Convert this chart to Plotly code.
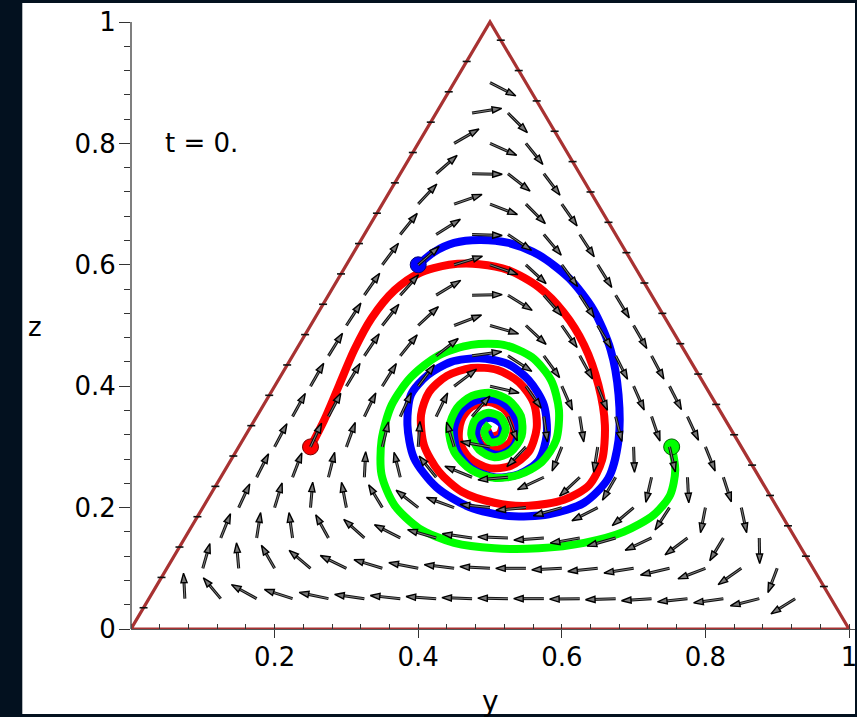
import math
import plotly.graph_objects as go

# ---------------- data ----------------
# simplex grid levels (share of y and z) used for the direction field
GRID = [0.0, 0.05, 0.10, 0.15, 0.20, 0.25, 0.30, 0.35, 0.40, 0.45, 0.50,
        0.55, 0.60, 0.65, 0.70, 0.75, 0.80, 0.85, 0.90, 0.95, 1.0]

# direction of each field arrow (degrees, as seen on screen), row j = z level index,
# entries for y level index i = 1, 2, ...
ANGLES = [
    [93, 130, 151, 162, 168, 172, 174, 176, 178, 179, 180, 181, 182, 184, 186, 188, 194, 212],
    [74, 95, 120, 140, 154, 163, 169, 173, 177, 180, 183, 186, 189, 193, 201, 215, 249],
    [68, 81, 98, 119, 138, 153, 164, 172, 178, 184, 190, 196, 205, 217, 239, 271],
    [65, 73, 85, 101, 121, 142, 160, 174, 185, 196, 207, 220, 237, 259, 282],
    [63, 69, 76, 87, 104, 129, 158, 185, 205, 223, 240, 257, 273, 288],
    [62, 65, 70, 76, 86, 107, 170, 226, 248, 261, 272, 283, 292],
    [61, 62, 64, 65, 64, 49, 291, 278, 279, 284, 289, 295],
    [60, 59, 58, 53, 37, 347, 305, 294, 292, 294, 297],
    [58, 56, 51, 38, 8, 327, 306, 299, 297, 298],
    [57, 52, 43, 21, 344, 317, 305, 301, 300],
    [55, 48, 31, 1, 328, 311, 303, 301],
    [53, 41, 17, 341, 317, 306, 302],
    [51, 32, 358, 326, 310, 303],
    [47, 19, 339, 315, 305],
    [41, 359, 322, 307],
    [30, 336, 309],
    [9, 315],
    [333],
]

# trajectories (horizontal y, vertical z)
RED_Y = [0.250, 0.269, 0.290, 0.311, 0.335, 0.367, 0.401, 0.443, 0.485, 0.526, 0.568, 0.603,
         0.631, 0.651, 0.660, 0.656, 0.638, 0.603, 0.554, 0.506, 0.461, 0.429, 0.408, 0.404,
         0.415, 0.440, 0.474, 0.510, 0.540, 0.561, 0.565, 0.554, 0.529, 0.499, 0.471, 0.457,
         0.460, 0.474, 0.499, 0.521, 0.533, 0.528, 0.508, 0.489, 0.481, 0.488, 0.504, 0.517,
         0.513, 0.501, 0.496]
RED_Z = [0.300, 0.344, 0.402, 0.460, 0.512, 0.558, 0.586, 0.600, 0.601, 0.591, 0.563, 0.521,
         0.468, 0.402, 0.336, 0.278, 0.237, 0.213, 0.203, 0.208, 0.226, 0.259, 0.303, 0.353,
         0.390, 0.417, 0.430, 0.427, 0.407, 0.372, 0.331, 0.292, 0.269, 0.265, 0.282, 0.311,
         0.344, 0.366, 0.374, 0.361, 0.334, 0.308, 0.295, 0.303, 0.325, 0.344, 0.351, 0.338,
         0.321, 0.318, 0.329]

BLUE_Y = [0.400, 0.422, 0.450, 0.485, 0.526, 0.568, 0.610, 0.644, 0.668, 0.679, 0.679, 0.665,
          0.631, 0.582, 0.526, 0.471, 0.425, 0.394, 0.385, 0.390, 0.413, 0.446, 0.485, 0.524,
          0.554, 0.575, 0.579, 0.568, 0.540, 0.506, 0.474, 0.454, 0.450, 0.461, 0.482, 0.510,
          0.529, 0.540, 0.533, 0.513, 0.492, 0.481, 0.485, 0.501, 0.517, 0.515, 0.504, 0.497]
BLUE_Z = [0.600, 0.621, 0.636, 0.641, 0.636, 0.616, 0.578, 0.526, 0.460, 0.386, 0.311, 0.249,
          0.208, 0.189, 0.186, 0.201, 0.234, 0.282, 0.336, 0.386, 0.418, 0.440, 0.446, 0.437,
          0.410, 0.369, 0.320, 0.278, 0.255, 0.250, 0.265, 0.295, 0.331, 0.361, 0.377, 0.377,
          0.361, 0.331, 0.301, 0.287, 0.295, 0.316, 0.339, 0.348, 0.336, 0.316, 0.311, 0.325]

GREEN_Y = [0.753, 0.758, 0.751, 0.728, 0.686, 0.631, 0.568, 0.506, 0.450, 0.401, 0.367, 0.349,
           0.349, 0.363, 0.390, 0.429, 0.474, 0.519, 0.558, 0.585, 0.596, 0.592, 0.572, 0.540,
           0.506, 0.474, 0.450, 0.443, 0.454, 0.475, 0.501, 0.526, 0.543, 0.544, 0.529, 0.506,
           0.485, 0.474, 0.479, 0.496, 0.513, 0.522, 0.515, 0.500, 0.492, 0.499]
GREEN_Z = [0.300, 0.262, 0.221, 0.188, 0.160, 0.142, 0.133, 0.133, 0.142, 0.166, 0.204, 0.254,
           0.311, 0.369, 0.415, 0.451, 0.468, 0.468, 0.448, 0.410, 0.361, 0.311, 0.275, 0.254,
           0.249, 0.262, 0.292, 0.331, 0.364, 0.384, 0.389, 0.377, 0.351, 0.318, 0.292, 0.283,
           0.295, 0.320, 0.344, 0.356, 0.351, 0.331, 0.311, 0.308, 0.325, 0.338]

TRIANGLE_Y = [0.0, 1.0, 0.5, 0.0]
TRIANGLE_Z = [0.0, 0.0, 1.0, 0.0]

X_TICKS = [0.2, 0.4, 0.6, 0.8, 1.0]
X_TICK_TEXT = ["0.2", "0.4", "0.6", "0.8", "1"]
Z_TICKS = [0.0, 0.2, 0.4, 0.6, 0.8, 1.0]
Z_TICK_TEXT = ["0", "0.2", "0.4", "0.6", "0.8", "1"]

# ---------------- layout constants ----------------
W, H = 857, 717
ML, MR, MT, MB = 131, 0, 3, 88
PX_PER_X = 720.0
PX_PER_Z = 607.0
X_MAX = (W - ML - MR) / PX_PER_X
Z_MAX = (H - MT - MB) / PX_PER_Z
PW = W - ML - MR
PH = H - MT - MB
BG = "#03111f"
FONT = "DejaVu Sans"
ARROW_LEN = 0.042

def px2paper_x(px):
    return (px - ML) / PW

def py2paper_y(py):
    return (H - MB - py) / PH

# ---------------- direction field ----------------
shaft_x, shaft_y = [], []
head_x, head_y, head_ang = [], [], []
for j, row in enumerate(ANGLES, start=1):
    zs = GRID[j]
    for i, a in enumerate(row, start=1):
        ys = GRID[i]
        x0 = ys + zs / 2.0
        z0 = zs
        r = math.radians(a)
        u = math.cos(r) / PX_PER_X
        v = math.sin(r) / PX_PER_Z
        n = math.hypot(u, v)
        dx, dz = ARROW_LEN * u / n, ARROW_LEN * v / n
        x1, z1 = x0 + dx, z0 + dz
        shaft_x += [x0, x0 + 0.8 * dx, None]
        shaft_y += [z0, z0 + 0.8 * dz, None]
        head_x.append(x1)
        head_y.append(z1)
        head_ang.append(90 - a)

# small marks on the slanted edges
mark_x, mark_y = [], []
for j in range(1, 20):
    zl = GRID[j] - 0.015
    xl = zl / 2.0
    mark_x += [xl - 4 / PX_PER_X, xl + 4 / PX_PER_X, None]
    mark_y += [zl, zl, None]
    zr = GRID[j] + 0.02
    xr = 1.0 - zr / 2.0
    mark_x += [xr - 4 / PX_PER_X, xr + 4 / PX_PER_X, None]
    mark_y += [zr, zr, None]

fig = go.Figure()

fig.add_trace(go.Scatter(x=TRIANGLE_Y, y=TRIANGLE_Z, mode="lines",
                         line=dict(color="#a83232", width=3.2),
                         cliponaxis=False, hoverinfo="skip", showlegend=False))

for ys, zs, col in [(RED_Y, RED_Z, "#ff0000"), (BLUE_Y, BLUE_Z, "#0000ff"),
                    (GREEN_Y, GREEN_Z, "#00ff00")]:
    fig.add_trace(go.Scatter(x=ys, y=zs, mode="lines",
                             line=dict(color=col, width=8, shape="spline", smoothing=0.8),
                             cliponaxis=False, hoverinfo="skip", showlegend=False))

for ys, zs, col, edge in [(RED_Y, RED_Z, "#ff0000", "#7a0000"),
                          (BLUE_Y, BLUE_Z, "#0000ff", "#00007a"),
                          (GREEN_Y, GREEN_Z, "#00ff00", "#006000")]:
    fig.add_trace(go.Scatter(x=[ys[0]], y=[zs[0]], mode="markers",
                             marker=dict(size=16, color=col, line=dict(color=edge, width=1)),
                             cliponaxis=False, hoverinfo="skip", showlegend=False))

fig.add_trace(go.Scatter(x=mark_x, y=mark_y, mode="lines",
                         line=dict(color="#111111", width=1.6),
                         cliponaxis=False, hoverinfo="skip", showlegend=False))

fig.add_trace(go.Scatter(x=shaft_x, y=shaft_y, mode="lines",
                         line=dict(color="#111111", width=3),
                         cliponaxis=False, hoverinfo="skip", showlegend=False))
fig.add_trace(go.Scatter(x=shaft_x, y=shaft_y, mode="lines",
                         line=dict(color="#9a9a9a", width=0.8),
                         cliponaxis=False, hoverinfo="skip", showlegend=False))
fig.add_trace(go.Scatter(x=head_x, y=head_y, mode="markers",
                         marker=dict(symbol="arrow", size=10, angle=head_ang,
                                     color="#777777", line=dict(color="#000000", width=1.4)),
                         cliponaxis=False, hoverinfo="skip", showlegend=False))

# white panel
fig.add_shape(type="rect", xref="paper", yref="paper",
              x0=px2paper_x(22), x1=px2paper_x(W), y0=py2paper_y(714), y1=py2paper_y(3),
              fillcolor="white", line=dict(width=0), layer="below")
# vertical axis line (from z=0 to z=1)
fig.add_shape(type="line", xref="paper", yref="y", x0=0, x1=0, y0=0, y1=1,
              line=dict(color="#555555", width=1.5))

fig.add_annotation(x=0.044, y=0.8, xref="x", yref="y", text="t = 0.", showarrow=False,
                   xanchor="left", yanchor="middle", font=dict(family=FONT, size=26, color="black"))
fig.add_annotation(x=px2paper_x(35), y=py2paper_y(327), xref="paper", yref="paper", text="z",
                   showarrow=False, xanchor="center", yanchor="middle",
                   font=dict(family=FONT, size=26, color="black"))
fig.add_annotation(x=px2paper_x(491), y=py2paper_y(702), xref="paper", yref="paper", text="y",
                   showarrow=False, xanchor="center", yanchor="middle",
                   font=dict(family=FONT, size=28, color="black"))

fig.update_layout(
    width=W, height=H,
    margin=dict(l=ML, r=MR, t=MT, b=MB, pad=0),
    paper_bgcolor=BG, plot_bgcolor="white",
    showlegend=False,
    xaxis=dict(range=[0, X_MAX], tickvals=X_TICKS, ticktext=X_TICK_TEXT,
               showgrid=False, zeroline=False, showline=True, linecolor="#555555",
               ticks="outside", ticklen=8, tickcolor="#333333", tickwidth=1.3,
               ticklabeloverflow="allow", ticklabelstandoff=-3,
               minor=dict(dtick=0.04, tick0=0, ticks="inside", ticklen=5,
                          tickcolor="#333333", showgrid=False),
               tickfont=dict(family=FONT, size=26, color="black"), fixedrange=True),
    yaxis=dict(range=[0, Z_MAX], tickvals=Z_TICKS, ticktext=Z_TICK_TEXT,
               showgrid=False, zeroline=False, showline=False,
               ticks="outside", ticklen=11, tickcolor="#333333", tickwidth=1.3,
               ticklabeloverflow="allow", ticklabelstandoff=-2,
               minor=dict(dtick=0.04, tick0=0, ticks="outside", ticklen=6,
                          tickcolor="#333333", showgrid=False),
               tickfont=dict(family=FONT, size=26, color="black"), fixedrange=True),
)

fig.write_html("out.html")
